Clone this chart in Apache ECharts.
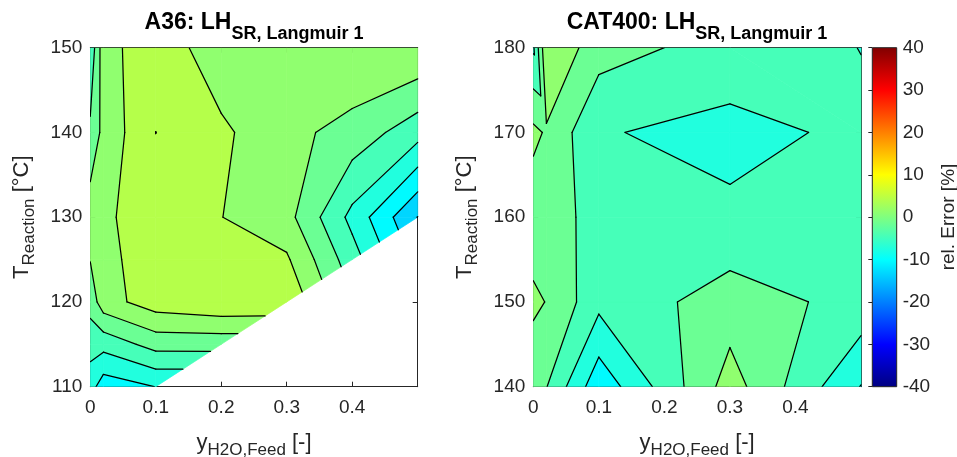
<!DOCTYPE html>
<html>
<head>
<meta charset="utf-8">
<script src="https://cdn.jsdelivr.net/npm/echarts@6/dist/echarts.min.js"></script>
<style>
  html, body { margin: 0; padding: 0; background: #fff; }
  #chart { width: 957px; height: 457px; }
</style>
</head>
<body>
<div id="chart"></div>
<script>
// A36: grid of y_H2O,Feed (columns) x T_Reaction (rows), rel. error in %
// null = outside the measured range (lower right triangle)
const xLeft = [0, 0.02, 0.1, 0.2, 0.3, 0.4, 0.5];
const tLeft = [110, 115, 120, 125, 130, 140, 150];
const errLeft = [
  [-6.17, -9.0, -7.35, null, null, null, null],
  [-3.34, -3.48, -0.49, -0.47, null, null, null],
  [-0.5, 2.99, 5.68, 6.6, 6.5, null, null],
  [1.4, 3.2, 6.06, 5.5, 4.59, -3.25, null],
  [3.0, 3.5, 6.37, 4.25, 2.29, -5.34, -13.26],
  [-1.05, 2.2, 7.11, 4.72, 2.17, 0.2, -3.34],
  [-3.93, 3.14, 6.06, 2.41, 3.0, 4.1, 4.0]
];

// CAT400
const xRight = [0, 0.02, 0.1, 0.3, 0.5];
const tRight = [140, 150, 160, 170, 180];
const errRight = [
  [-0.83, -1.5, -9.4, 2.6, -7.5],
  [1.9, 1.21, -3.68, -0.21, -2.53],
  [-0.5, -0.3, -2.61, -3.97, -3.0],
  [2.0, 0.98, -4.29, -5.34, -3.94],
  [-5.0, 4.0, -0.35, -2.85, -4.55]
];

const contourLevels = [-13.2, -10.3, -7.4, -4.5, -1.6, 1.3, 4.2, 7.1];
const colorRange = [-40, 40];

const FONT = 'Liberation Sans, Arial, Helvetica, sans-serif';
const AX = '#262626';

// matlab jet over colorRange
function jet(v) {
  const t = (v - colorRange[0]) / (colorRange[1] - colorRange[0]);
  const ch = k => Math.round(255 * Math.min(1, Math.max(0, 1.5 - Math.abs(4 * t - k))));
  return 'rgb(' + ch(3) + ',' + ch(2) + ',' + ch(1) + ')';
}

// fill bands, coloured by their lower level
const bands = [{lo: -Infinity, hi: contourLevels[0],
  color: jet(2 * contourLevels[0] - contourLevels[1])}];
contourLevels.forEach((c, k) => {
  bands.push({lo: c, hi: k + 1 < contourLevels.length ? contourLevels[k + 1] : Infinity, color: jet(c)});
});

function cross(s, e, c, flag) {
  const f = (c - s[2]) / (e[2] - s[2]);
  return [s[0] + f * (e[0] - s[0]), s[1] + f * (e[1] - s[1]), c, flag];
}

// sutherland-hodgman against z >= c (above) or z < c
function clipPoly(pts, c, above) {
  const out = [];
  const n = pts.length;
  for (let k = 0; k < n; k++) {
    const s = pts[(k + n - 1) % n], e = pts[k];
    const sIn = above ? s[2] >= c : s[2] < c;
    const eIn = above ? e[2] >= c : e[2] < c;
    if (eIn) {
      if (!sIn) out.push(cross(s, e, c, 'in'));
      out.push(e);
    } else if (sIn) {
      out.push(cross(s, e, c, 'out'));
    }
  }
  return out;
}

// one grid cell -> quad, or triangles (missing corner / saddle)
function cellPieces(X, T, Z, i, j) {
  const p = [[i, j], [i + 1, j], [i + 1, j + 1], [i, j + 1]].map(([a, b]) =>
    Z[b][a] == null ? null : [X[a], T[b], Z[b][a]]);
  const ok = p.filter(q => q);
  if (ok.length < 3) return [];
  if (ok.length === 3) return [ok];
  const mean = (p[0][2] + p[1][2] + p[2][2] + p[3][2]) / 4;
  for (const c of contourLevels) {
    const up = p.map(q => q[2] >= c);
    if (up[0] === up[2] && up[1] === up[3] && up[0] !== up[1]) {
      return (mean >= c) === up[0]
        ? [[p[0], p[1], p[2]], [p[0], p[2], p[3]]]
        : [[p[0], p[1], p[3]], [p[1], p[2], p[3]]];
    }
  }
  return [p];
}

function cellData(X, T) {
  const d = [];
  for (let j = 0; j < T.length - 1; j++) {
    for (let i = 0; i < X.length - 1; i++) {
      d.push([(X[i] + X[i + 1]) / 2, (T[j] + T[j + 1]) / 2, i, j]);
    }
  }
  return d;
}

function fillRenderer(X, T, Z) {
  return function (params, api) {
    const pieces = cellPieces(X, T, Z, api.value(2), api.value(3));
    const children = [];
    pieces.forEach(piece => {
      bands.forEach(b => {
        let poly = clipPoly(piece, b.lo, true);
        if (poly.length >= 3) poly = clipPoly(poly, b.hi, false);
        if (poly.length < 3) return;
        children.push({
          type: 'polygon',
          shape: {points: poly.map(q => api.coord([q[0], q[1]]))},
          style: {fill: b.color, stroke: b.color, lineWidth: 0.7}
        });
      });
    });
    return {type: 'group', children: children};
  };
}

function lineRenderer(X, T, Z) {
  return function (params, api) {
    const pieces = cellPieces(X, T, Z, api.value(2), api.value(3));
    const children = [];
    pieces.forEach(piece => {
      contourLevels.forEach(c => {
        const out = clipPoly(piece, c, true);
        for (let k = 0; k < out.length; k++) {
          const a = out[k], b = out[(k + 1) % out.length];
          if (a[3] === 'out' && b[3] === 'in') {
            const pa = api.coord([a[0], a[1]]), pb = api.coord([b[0], b[1]]);
            children.push({
              type: 'line',
              shape: {x1: pa[0], y1: pa[1], x2: pb[0], y2: pb[1]},
              style: {stroke: '#000', lineWidth: 1.25, lineCap: 'round'}
            });
          }
        }
      });
    });
    return {type: 'group', children: children};
  };
}

const sub = {
  m: {fontSize: 22, lineHeight: 32, color: AX, fontFamily: FONT},
  s: {fontSize: 17, lineHeight: 17, verticalAlign: 'bottom', color: AX, fontFamily: FONT}
};

function xAx(grid, top) {
  return {
    type: 'value', gridIndex: grid, position: top ? 'top' : 'bottom',
    min: 0, max: 0.5, interval: 0.1,
    axisLine: {onZero: false, lineStyle: {color: AX, width: 1}},
    axisTick: {inside: true, length: 5, lineStyle: {color: AX}},
    splitLine: {show: false},
    axisLabel: {show: !top, showMaxLabel: false, color: AX, fontSize: 19, fontFamily: FONT, margin: 12},
    name: top ? '' : '{m|y}{s|H2O,Feed}{m| [-]}',
    nameLocation: 'middle', nameGap: 40,
    nameTextStyle: {rich: sub}
  };
}

function yAx(grid, right, min, max) {
  return {
    type: 'value', gridIndex: grid, position: right ? 'right' : 'left',
    min: min, max: max, interval: 10,
    axisLine: {onZero: false, lineStyle: {color: AX, width: 1}},
    axisTick: {inside: true, length: 5, lineStyle: {color: AX}},
    splitLine: {show: false},
    axisLabel: {show: !right, color: AX, fontSize: 19, fontFamily: FONT, margin: 8},
    name: right ? '' : '{m|T}{s|Reaction}{m| [°C]}',
    nameLocation: 'middle', nameGap: 52,
    nameTextStyle: {rich: sub}
  };
}

function titleRich() {
  return {
    m: {fontSize: 23, fontWeight: 'bold', lineHeight: 41, color: '#000', fontFamily: FONT},
    s: {fontSize: 18, fontWeight: 'bold', lineHeight: 18, verticalAlign: 'bottom', color: '#000', fontFamily: FONT}
  };
}

const jetStops = [-40, -30, -10, 10, 30, 40].map(v => ({
  offset: (v - colorRange[0]) / (colorRange[1] - colorRange[0]), color: jet(v)
}));

const chart = echarts.init(document.getElementById('chart'), null, {renderer: 'canvas'});
chart.setOption({
  animation: false,
  textStyle: {fontFamily: FONT},
  title: [
    {text: '{m|A36: LH}{s|SR, Langmuir 1}', left: 254, top: 2, textAlign: 'center', padding: 0,
     textStyle: {rich: titleRich()}},
    {text: '{m|CAT400: LH}{s|SR, Langmuir 1}', left: 697, top: 2, textAlign: 'center', padding: 0,
     textStyle: {rich: titleRich()}}
  ],
  grid: [
    {left: 90.3, top: 47.7, width: 327.4, height: 339, outerBoundsMode: 'none', containLabel: false},
    {left: 533.3, top: 47.7, width: 327.7, height: 339, outerBoundsMode: 'none', containLabel: false},
    {left: 872.3, top: 47.7, width: 24.4, height: 339, outerBoundsMode: 'none', containLabel: false}
  ],
  xAxis: [
    xAx(0, false), xAx(0, true), xAx(1, false), xAx(1, true),
    {type: 'value', gridIndex: 2, min: 0, max: 1, show: false}
  ],
  yAxis: [
    yAx(0, false, 110, 150), yAx(0, true, 110, 150),
    yAx(1, false, 140, 180), yAx(1, true, 140, 180),
    {
      type: 'value', gridIndex: 2, position: 'right', min: colorRange[0], max: colorRange[1], interval: 10,
      axisLine: {show: false},
      axisTick: {inside: true, length: 4, lineStyle: {color: AX}},
      splitLine: {show: false},
      axisLabel: {color: AX, fontSize: 19, fontFamily: FONT, margin: 6}
    }
  ],
  graphic: [{
    type: 'text', x: 949, y: 217, rotation: Math.PI / 2,
    style: {text: 'rel. Error [%]', font: '19px ' + FONT, fill: AX, align: 'center', verticalAlign: 'middle'}
  }],
  series: [
    {type: 'custom', xAxisIndex: 0, yAxisIndex: 0, clip: true, silent: true,
     data: cellData(xLeft, tLeft), encode: {x: 0, y: 1}, renderItem: fillRenderer(xLeft, tLeft, errLeft)},
    {type: 'custom', xAxisIndex: 0, yAxisIndex: 0, clip: true, silent: true, z: 3,
     data: cellData(xLeft, tLeft), encode: {x: 0, y: 1}, renderItem: lineRenderer(xLeft, tLeft, errLeft)},
    {type: 'custom', xAxisIndex: 2, yAxisIndex: 2, clip: true, silent: true,
     data: cellData(xRight, tRight), encode: {x: 0, y: 1}, renderItem: fillRenderer(xRight, tRight, errRight)},
    {type: 'custom', xAxisIndex: 2, yAxisIndex: 2, clip: true, silent: true, z: 3,
     data: cellData(xRight, tRight), encode: {x: 0, y: 1}, renderItem: lineRenderer(xRight, tRight, errRight)},
    {type: 'custom', xAxisIndex: 4, yAxisIndex: 4, silent: true,
     data: [[0.5, 0]], encode: {x: 0, y: 1},
     renderItem: function (params, api) {
       const a = api.coord([0, colorRange[0]]), b = api.coord([1, colorRange[1]]);
       return {
         type: 'rect',
         shape: {x: a[0], y: b[1], width: b[0] - a[0], height: a[1] - b[1]},
         style: {fill: new echarts.graphic.LinearGradient(0, 1, 0, 0, jetStops), stroke: AX, lineWidth: 1}
       };
     }}
  ]
});
</script>
</body>
</html>
